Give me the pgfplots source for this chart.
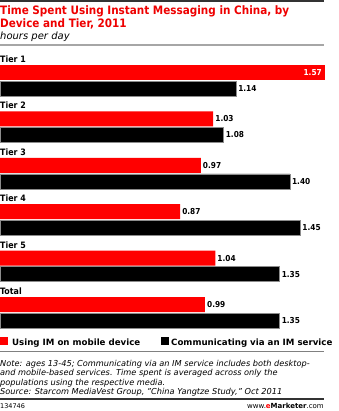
\documentclass[border=0pt]{standalone}
\usepackage{fontspec}
\setmainfont{DejaVu Sans}
\newfontfamily\condfont{DejaVu Sans Condensed}
\usepackage{pgfplots}
\pgfplotsset{compat=1.18}
\definecolor{emred}{HTML}{FF0000}
\definecolor{titlered}{HTML}{EE0000}
\newcommand{\fs}[1]{\fontsize{#1}{#1}\selectfont}
\begin{document}
\begin{tikzpicture}
\useasboundingbox (0,0) rectangle (338pt,-411pt);
% header
\draw[line width=2pt, black!80] (0,-1pt) -- (324pt,-1pt);
\node[anchor=base west, inner sep=0, text=titlered, font=\condfont\fs{11.6}\bfseries] at (0,-15pt) {Time Spent Using Instant Messaging in China, by};
\node[anchor=base west, inner sep=0, text=titlered, font=\condfont\fs{11.6}\bfseries] at (0,-28pt) {Device and Tier, 2011};
\node[anchor=base west, inner sep=0, font=\fs{10}\itshape] at (0,-39.5pt) {hours per day};
\draw[line width=1.5pt, black!35] (0,-45pt) -- (324pt,-45pt);
\begin{axis}[
  scale only axis, width=338pt, height=300pt,
  at={(0pt,-50pt)}, anchor=north west,
  xmin=0, xmax=1.63285, ymin=50, ymax=350, y dir=reverse,
  hide axis, clip=false,
  xbar, bar width=15pt,
  point meta=x,
  nodes near coords={\pgfmathprintnumber[fixed,zerofill,precision=2]{\pgfplotspointmeta}},
  nodes near coords style={font=\condfont\fs{8.2}\bfseries, anchor=west, inner sep=2pt, text=black, /pgf/number format/assume math mode=true},
]
% Tier 1 mobile (label inside bar)
\addplot[xbar, bar shift=0pt, fill=emred, draw=none,
  nodes near coords style={anchor=east, text=white, inner sep=3pt}] table[x=v, y=r] {
v    r
1.57 72.5
};
% other mobile
\addplot[xbar, bar shift=0pt, fill=emred, draw=none] table[x=v, y=r] {
v    r
1.03 118.9
0.97 165.3
0.87 211.7
1.04 258.1
0.99 304.5
};
% IM service
\addplot[xbar, bar shift=0pt, fill=black, draw=black!45, line width=0.6pt] table[x=v, y=r] {
v    r
1.14 88.5
1.08 134.9
1.40 181.3
1.45 227.7
1.35 274.1
1.35 320.5
};
\node[anchor=base west, inner sep=0, font=\condfont\fs{8.8}\bfseries] at (axis cs:0,62.5) {Tier 1};
\node[anchor=base west, inner sep=0, font=\condfont\fs{8.8}\bfseries] at (axis cs:0,108.9) {Tier 2};
\node[anchor=base west, inner sep=0, font=\condfont\fs{8.8}\bfseries] at (axis cs:0,155.3) {Tier 3};
\node[anchor=base west, inner sep=0, font=\condfont\fs{8.8}\bfseries] at (axis cs:0,201.7) {Tier 4};
\node[anchor=base west, inner sep=0, font=\condfont\fs{8.8}\bfseries] at (axis cs:0,248.1) {Tier 5};
\node[anchor=base west, inner sep=0, font=\condfont\fs{8.8}\bfseries] at (axis cs:0,294.5) {Total};
\end{axis}
% legend
\fill[emred] (0,-337pt) rectangle (8pt,-345pt);
\node[anchor=base west, inner sep=0, font=\fs{8.65}\bfseries] at (12pt,-345pt) {Using IM on mobile device};
\fill[black] (161pt,-337pt) rectangle (169pt,-345pt);
\node[anchor=base west, inner sep=0, font=\fs{8.65}\bfseries] at (171pt,-345pt) {Communicating via an IM service};
% notes
\draw[line width=0.8pt, black!50] (0,-351pt) -- (324pt,-351pt);
\node[anchor=base west, inner sep=0, font=\fs{8.2}\itshape] at (0,-366.5pt) {Note: ages 13-45; Communicating via an IM service includes both desktop-};
\node[anchor=base west, inner sep=0, font=\fs{8.2}\itshape] at (0,-375.7pt) {and mobile-based services. Time spent is averaged across only the};
\node[anchor=base west, inner sep=0, font=\fs{8.2}\itshape] at (0,-385pt) {populations using the respective media.};
\node[anchor=base west, inner sep=0, font=\fs{8.2}\itshape] at (0,-394.2pt) {Source: Starcom MediaVest Group, "China Yangtze Study," Oct 2011};
\draw[line width=2pt, black!80] (0,-399pt) -- (324pt,-399pt);
\node[anchor=base west, inner sep=0, font=\fs{6.5}] at (0,-408.5pt) {134746};
\node[anchor=base east, inner sep=0, font=\fs{7}] at (324pt,-408.5pt) {www.\textcolor{emred}{\bfseries e}\textbf{Marketer}.com};
\end{tikzpicture}
\end{document}
